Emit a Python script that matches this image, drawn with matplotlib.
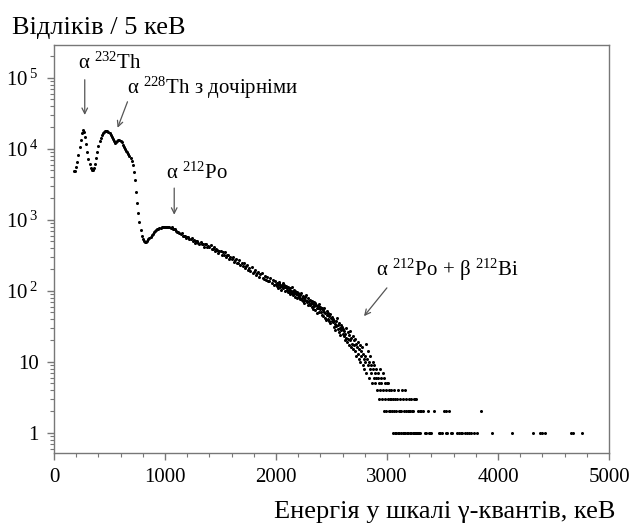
import matplotlib
matplotlib.use("Agg")
import matplotlib.pyplot as plt
from matplotlib.ticker import MultipleLocator, LogLocator, NullFormatter
import numpy as np

plt.rcParams['font.family'] = ['Liberation Serif', 'DejaVu Serif']
plt.rcParams['mathtext.fontset'] = 'custom'
plt.rcParams['mathtext.rm'] = 'Liberation Serif'
plt.rcParams['mathtext.it'] = 'Liberation Serif:italic'

# spectrum, 10 keV steps from 180 to 2000 keV
energy_low = list(range(180, 2001, 10))
counts_low = [
    4800, 4900, 5500, 6600, 8200, 10500, 13500, 16500, 18200, 17200,
    14600, 11600, 9100, 7300, 6100, 5400, 5050, 5000, 5300, 6200,
    7500, 9100, 10900, 12700, 14400, 15800, 16800, 17400, 17800, 17900,
    17800, 17400, 16700, 15800, 14700, 13600, 12700, 12200, 12300, 12800,
    13200, 13300, 13000, 12300, 11500, 10700, 10000, 9400, 8900, 8400,
    7900, 7400, 6800, 5900, 4700, 3600, 2500, 1750, 1250, 920,
    720, 600, 530, 500, 490, 495, 510, 530, 555, 580,
    610, 640, 665, 690, 715, 735, 750, 765, 775, 785,
    792, 798, 802, 805, 805, 802,
    800, 777, 784, 739, 738, 745, 701, 668, 684, 660,
    622, 642, 587, 594, 595, 549, 568, 570, 533, 531,
    553, 503, 516, 478, 505, 502, 474, 454, 494, 451,
    454, 420, 454, 452, 408, 427, 409, 439, 387, 384,
    408, 367, 383, 380, 341, 368, 361, 323, 350, 321,
    347, 302, 318, 318, 279, 303, 282, 301, 257, 276,
    281, 246, 244, 271, 229, 246, 222, 243, 210, 225,
    230, 195, 210, 189, 215, 181, 186, 199, 168, 180,
    187, 157, 170, 177, 150, 148, 164, 143, 158, 136,
    138, 153, 128, 140, 121, 138, 124,
]

# 5 keV steps from 2005 to 3305 keV
energy_mid = list(range(2005, 3306, 5))
counts_mid = [
    118, 131, 122, 109, 127, 135, 114, 120, 104, 122, 117, 128, 108, 113, 121, 99, 112, 118, 103, 109,
    97, 112, 104, 95, 108, 89, 101, 115, 93, 98, 86, 104, 92, 83, 99, 90, 96, 79, 88, 94,
    81, 90, 77, 86, 92, 74, 80, 71, 85, 78, 68, 83, 75, 88, 69, 73, 64, 79, 71, 66,
    74, 63, 68, 59, 72, 65, 56, 70, 61, 67, 53, 64, 58, 49, 62, 57, 66, 51, 55, 60,
    50, 57, 46, 53, 44, 51, 58, 42, 48, 39, 52, 45, 40, 49, 37, 44, 47, 35, 42, 38,
    43, 36, 40, 31, 38, 34, 28, 37, 32, 41, 29, 33, 26, 35, 30, 24, 33, 28, 31, 25,
    29, 23, 27, 20, 25, 30, 22, 19, 26, 21, 17, 24, 20, 27, 16, 22, 18, 23, 15, 20,
    17, 21, 14, 18, 12, 16, 19, 13, 15, 11, 17, 10, 14, 12, 16, 9, 13, 11, 8, 12,
    10, 18, 7, 11, 9, 14, 6, 10, 8, 12, 7, 9, 5, 10, 8, 6, 9, 5, 7, 6,
    8, 4, 6, 7, 5, 3, 8, 4, 6, 5, 3, 7, 4, 6, 2, 5, 3, 4, 2, 5,
    3, 5, 2, 4, 3, 2, 4, 3, 2, 3, 1, 4, 2, 1, 3, 2, 1, 3, 1, 4,
    2, 1, 3, 2, 1, 2, 4, 1, 3, 1, 2, 1, 4, 2, 3, 1, 2, 1, 3, 2,
    1, 2, 3, 1, 2, 2, 1, 3, 1, 1, 3, 1, 3, 1, 2, 1, 1, 1, 1, 2,
    2,
]

# sparse tail, single counts
energy_tail = [3325, 3340, 3350, 3365, 3375, 3385, 3400, 3420, 3470, 3480,
               3495, 3515, 3530, 3535, 3545, 3560, 3575, 3590, 3630, 3650,
               3665, 3680, 3700, 3720, 3740, 3760, 3785, 3810, 3850, 3950,
               4125, 4315, 4380, 4395, 4420, 4655, 4680, 4755]
counts_tail = [2, 1, 1, 2, 1, 1, 1, 2, 1, 1,
               1, 2, 1, 2, 1, 2, 1, 1, 1, 1,
               1, 1, 1, 1, 1, 1, 1, 1, 2, 1,
               1, 1, 1, 1, 1, 1, 1, 1]

fig = plt.figure(figsize=(6.35, 5.25), dpi=100)
ax = fig.add_axes([54/635, 72/525, 555/635, 408/525])

dots = dict(ls='none', marker='o', ms=2.2, mew=0, color='black')
ax.plot(energy_low, counts_low, **dots)
ax.plot(energy_mid, counts_mid, **dots)
ax.plot(energy_tail, counts_tail, **dots)

ax.set_yscale('log')
ax.set_xlim(0, 5000)
ax.set_ylim(0.52, 2.9e5)

ax.xaxis.set_major_locator(MultipleLocator(1000))
ax.xaxis.set_minor_locator(MultipleLocator(200))
ax.set_yticks([1, 10, 1e2, 1e3, 1e4, 1e5],
              labels=['1', '10', r'$10^{\;2}$', r'$10^{\;3}$', r'$10^{\;4}$', r'$10^{\;5}$'])
ax.yaxis.set_minor_locator(LogLocator(base=10, subs=np.arange(2, 10)))
ax.yaxis.set_minor_formatter(NullFormatter())

grey = '#777777'
for s in ax.spines.values():
    s.set_color(grey)
    s.set_linewidth(1.0)
ax.tick_params(which='both', direction='out', color=grey, labelsize=15)
ax.tick_params(which='major', length=5, width=1.0, pad=6)
ax.tick_params(which='minor', length=3, width=0.8)

arrow = dict(arrowstyle='->', color='#555555', lw=0.9, shrinkA=0, shrinkB=0)
ax.annotate('', xy=(277, 3.0e4), xytext=(277, 9.4e4), arrowprops=arrow)
ax.annotate('', xy=(573, 1.98e4), xytext=(662, 4.6e4), arrowprops=arrow)
ax.annotate('', xy=(1083, 1180), xytext=(1083, 2800), arrowprops=arrow)
ax.annotate('', xy=(2793, 44), xytext=(2999, 110), arrowprops=arrow)

ax.text(215, 1.6e5, r'α $^{232}$Th', fontsize=15, va='center')
ax.text(662, 7.2e4, r'α $^{228}$Th з дочірніми', fontsize=15, va='center')
ax.text(1012, 4600, r'α $^{212}$Po', fontsize=15, va='center')
ax.text(2900, 198, r'α $^{212}$Po + β $^{212}$Bi', fontsize=15, va='center')

fig.text(12/635, 1 - 28/525, 'Відліків / 5 кеВ', fontsize=19, va='center')
fig.text(615/635, 1 - 512/525, 'Енергія у шкалі γ-квантів, кеВ', fontsize=19,
         ha='right', va='center')

fig.savefig('out.png', dpi=100)
